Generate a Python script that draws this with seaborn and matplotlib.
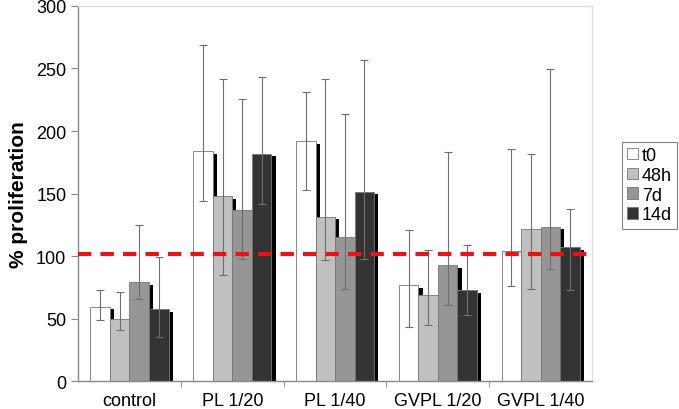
import pandas as pd
import matplotlib
matplotlib.use("Agg")
import matplotlib.pyplot as plt
import matplotlib.patheffects as pe
from matplotlib.patches import Patch
import seaborn as sns

groups = ["control", "PL 1/20", "PL 1/40", "GVPL 1/20", "GVPL 1/40"]
times = ["t0", "48h", "7d", "14d"]

# mean values per time point, one list per time (in group order)
t0 = [59.5, 184, 192, 77, 104]
h48 = [50, 148, 131.5, 68.5, 122]
d7 = [79, 136.5, 115, 93, 123.5]
d14 = [57.5, 182, 151.5, 73, 107]

# error bar ends (low, high)
t0_lo = [48.5, 144, 152.5, 43, 76]
t0_hi = [73, 268.5, 231, 120.5, 186]
h48_lo = [41, 85, 97, 45, 74]
h48_hi = [71, 241.5, 241.5, 105, 182]
d7_lo = [65.5, 98, 74, 61, 89.5]
d7_hi = [124.5, 226, 214, 183, 249.5]
d14_lo = [35, 142, 98, 52.5, 73]
d14_hi = [99, 243.5, 257, 109, 138]

reference = 102

colors = ["#ffffff", "#c0c0c0", "#969696", "#333333"]

df = pd.DataFrame({
    "group": groups * 4,
    "time": [t for t in times for _ in groups],
    "value": t0 + h48 + d7 + d14,
})
lows = [t0_lo, h48_lo, d7_lo, d14_lo]
highs = [t0_hi, h48_hi, d7_hi, d14_hi]
means = [t0, h48, d7, d14]

plt.rcParams["font.family"] = ["Liberation Sans", "DejaVu Sans"]

fig = plt.figure(figsize=(6.79, 4.10), dpi=100)
ax = fig.add_axes([0.115, 0.068, 0.757, 0.915])

sns.barplot(
    data=df, x="group", y="value", hue="time", order=groups, hue_order=times,
    palette=colors, width=0.76, errorbar=None, edgecolor="#777777",
    linewidth=0.6, ax=ax, legend=False,
)

shadow = [pe.SimplePatchShadow(offset=(3, -2), shadow_rgbFace="black", alpha=1), pe.Normal()]
bar_conts = list(ax.containers)
for i, cont in enumerate(bar_conts):
    for j, bar in enumerate(cont.patches):
        bar.set_path_effects(shadow)
        xc = bar.get_x() + bar.get_width() / 2
        m = means[i][j]
        ax.errorbar(
            xc, m, yerr=[[m - lows[i][j]], [highs[i][j] - m]],
            fmt="none", ecolor="#6e6e6e", elinewidth=0.8, capsize=3,
            capthick=0.8, zorder=5,
        )

ax.axhline(reference, color="#ee1111", lw=3, ls=(0, (3.2, 2.2)), zorder=6)

ax.set_ylim(0, 300)
ax.set_xlim(-0.5, 4.5)
ax.set_yticks(range(0, 301, 50))
ax.set_xticks(range(len(groups)))
ax.set_xticklabels(groups)
ax.set_xticks([0.5, 1.5, 2.5, 3.5], minor=True)
ax.tick_params(axis="x", which="major", length=0, labelsize=13, pad=8)
ax.tick_params(axis="x", which="minor", length=4, color="#888888")
ax.tick_params(axis="y", length=5, color="#888888", labelsize=13)
ax.set_xlabel("")
ax.set_ylabel("% proliferation", fontsize=15, fontweight="bold", labelpad=6)

for side in ["left", "bottom"]:
    ax.spines[side].set_color("#888888")
for side in ["top", "right"]:
    ax.spines[side].set_color("#dddddd")
for s in ax.spines.values():
    s.set_linewidth(1)

handles = [Patch(facecolor=c, edgecolor="#777777", linewidth=0.6) for c in colors]
leg = fig.legend(
    handles, times, loc="upper left", bbox_to_anchor=(0.916, 0.652),
    fontsize=13, frameon=True, fancybox=False, edgecolor="#666666",
    handlelength=0.6, handleheight=0.6, handletextpad=0.2,
    borderpad=0.3, labelspacing=0.15, borderaxespad=0,
)
leg.get_frame().set_linewidth(0.8)

fig.savefig("out.png", dpi=100)
